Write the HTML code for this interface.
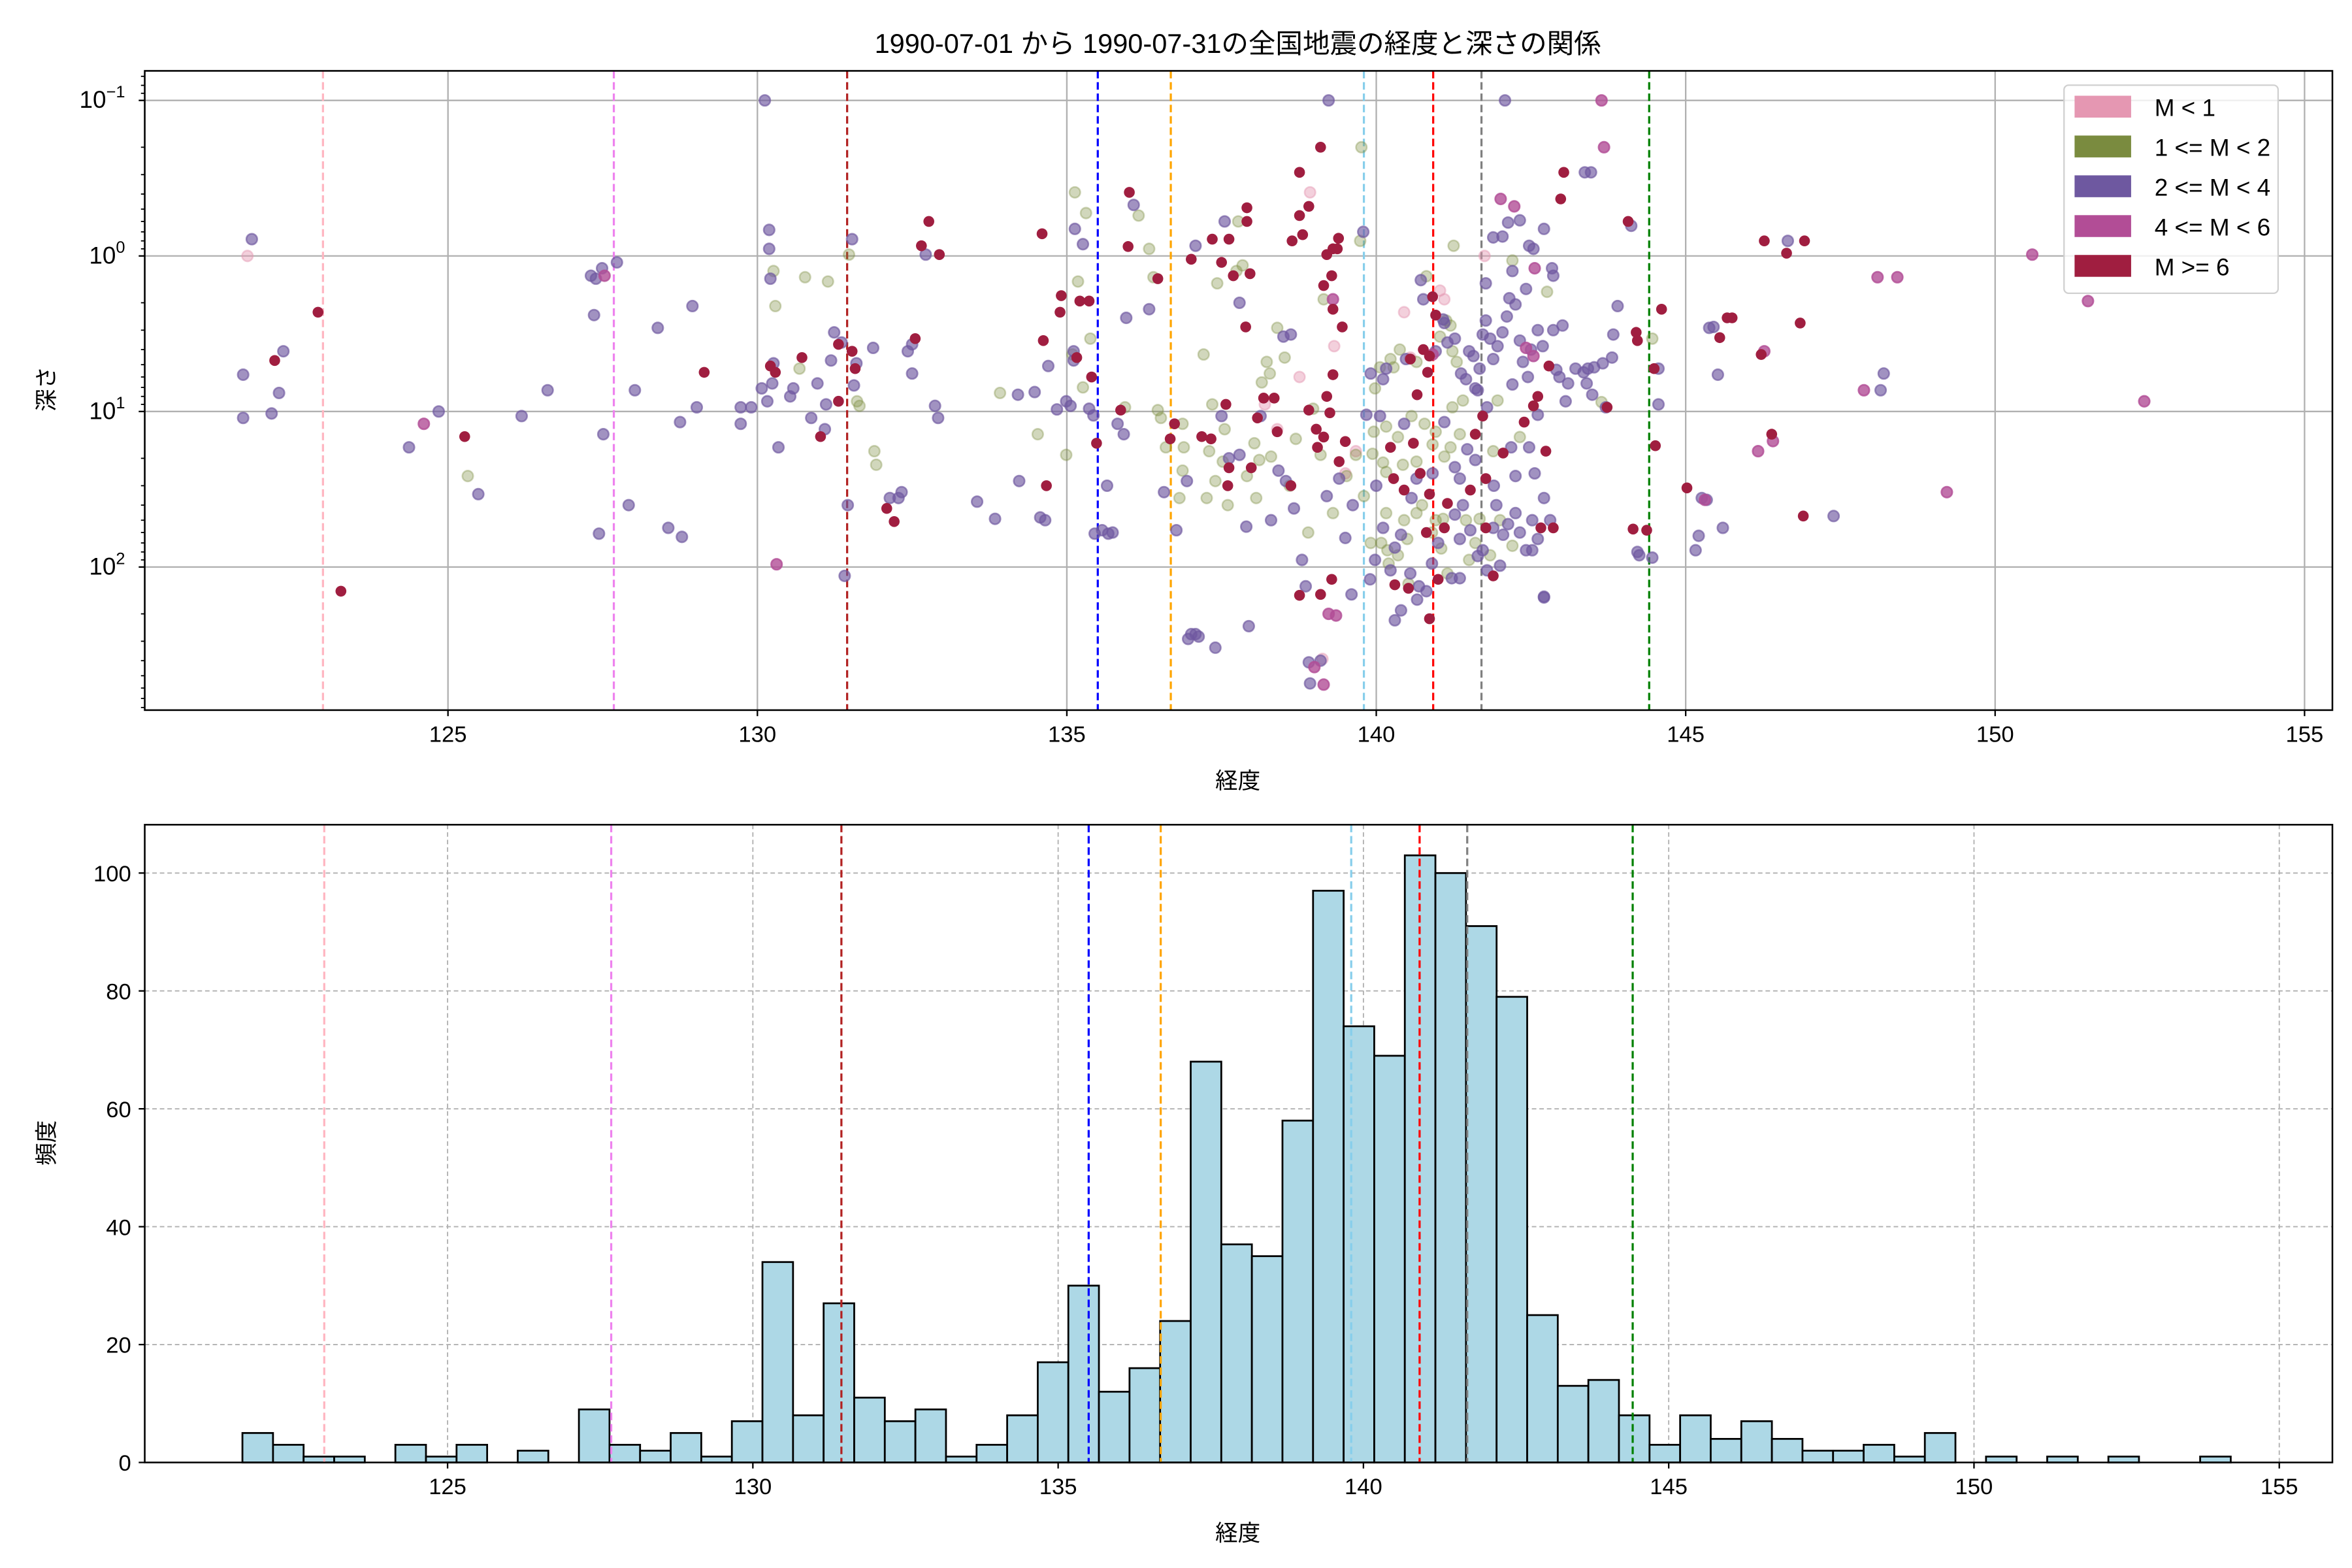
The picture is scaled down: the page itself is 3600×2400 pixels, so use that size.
<!DOCTYPE html>
<html><head><meta charset="utf-8">
<style>
html,body{margin:0;padding:0;background:#fff;}
svg{display:block;font-family:"Liberation Sans","Noto Sans CJK JP",sans-serif;}
</style></head>
<body>
<svg id="fig" width="3600" height="2400" viewBox="0 0 1560 1040" xmlns="http://www.w3.org/2000/svg">
<rect width="1560" height="1040" fill="#fff"/>
<text x="821" y="35" font-size="18" text-anchor="middle">1990-07-01 から 1990-07-31の全国地震の経度と深さの関係</text>
<g id="topPanel"></g>
<g id="botPanel"></g>
</svg>
<script>
// ---- data ----
const refLines = [122.98, 127.68, 131.45, 135.5, 136.68, 139.8, 140.92, 141.7, 144.41];
const refColors = ["#ffb6c1","#ee82ee","#b22222","#0000ff","#ffa500","#87ceeb","#ff0000","#808080","#008000"];
const xTicks = [125,130,135,140,145,150,155];
const yTicksLog = [-1,0,1,2];
const histTicks = [0,20,40,60,80,100];
const histCounts = [5,3,1,1,0,3,1,3,0,2,0,9,3,2,5,1,7,34,8,27,11,7,9,1,3,8,17,30,12,16,24,68,37,35,58,97,74,69,103,100,91,79,25,13,14,8,3,8,4,7,4,2,2,3,1,5,0,1,0,1,0,1,0,0,1];
const histStart = 121.64;
const histWidth = 0.501;
const classNames = ["M < 1","1 <= M < 2","2 <= M < 4","4 <= M < 6","M >= 6"];
const classColors = ["#e597b2","#7a8b3f","#6e58a0","#b24d96","#a01e40"];
const pinkPts = [[121.76,1.0],[138.93,0.39],[139.13,390],[139.32,3.8],[140.45,2.3],[141.03,1.67],[141.75,1],[138.4,13],[138.76,6],[139.67,18],[140.55,4.5],[141.1,1.9],[138.2,9],[139.5,25]];
const olivePts = [[125.32,26],[130.26,1.25],[130.29,2.1],[130.68,5.3],[130.77,1.37],[131.14,1.46],[131.48,0.98],[131.61,8.6],[131.65,9.2],[131.89,18],[131.92,22],[133.92,7.6],[134.53,14],[134.99,19],[135.09,4.3],[135.13,0.39],[135.18,1.46],[135.26,7],[135.31,0.53],[135.38,3.4],[135.94,9.4],[136.16,0.55],[136.33,0.9],[136.4,1.37],[136.47,9.8],[136.52,11],[136.6,17],[136.82,36],[136.87,12],[136.89,17],[136.87,24],[137.26,36],[137.4,28],[137.35,9],[137.21,4.3],[137.43,1.5],[137.74,1.25],[137.77,0.6],[137.84,1.15],[137.55,13],[137.52,21],[137.91,26],[138.03,16],[138.06,36],[138.11,20.5],[138.15,6.5],[138.23,4.8],[138.28,5.7],[138.4,2.9],[138.52,4.5],[138.3,19.5],[138.98,9.6],[139.1,19],[139.15,1.9],[139.52,26],[139.74,0.8],[139.76,0.2],[139.67,19],[139.98,7.1],[140.06,5.2],[140.23,4.6],[139.91,70],[140.08,70],[140.16,45],[140.18,78],[140.35,84],[140.45,50],[140.5,66],[140.52,128],[140.65,45],[140.74,40],[140.96,50],[141.05,76],[141.15,110],[141.08,49],[141.45,50],[141.6,70],[141.67,49],[141.84,84],[142.0,50],[142.2,73],[141.89,18],[142.32,14.6],[141.13,2.6],[141.2,2.8],[141.03,3.3],[141.23,4.1],[141.3,4.8],[141.96,8.5],[141.4,8.5],[141.23,9.4],[140.96,13.5],[140.78,12],[140.57,10.7],[140.35,14.6],[140.16,12.5],[139.96,13.5],[139.94,18.7],[140.11,21.3],[140.91,16.3],[141.1,19.5],[141.35,14],[141.2,17],[140.65,21],[140.43,22],[140.16,24.5],[140.28,5.2],[140.38,4],[140.65,4.8],[140.81,1.35],[141.25,0.86],[142.2,1.07],[142.76,1.7],[143.64,8.7],[144.46,3.4],[137.6,40],[138.6,30],[139.3,45],[138.9,60],[139.8,35],[137.3,18],[138.7,15],[140.9,60],[141.5,90],[140.2,95]];
const purplePts = [[121.69,5.8],[121.83,0.78],[121.69,11],[122.15,10.3],[122.27,7.6],[122.34,4.1],[124.37,17],[124.85,10],[125.49,34],[126.19,10.7],[126.61,7.3],[127.36,2.4],[127.39,1.4],[127.49,1.2],[127.51,14],[127.44,61],[127.73,1.1],[127.31,1.34],[127.92,40],[128.02,7.3],[128.39,2.9],[128.56,56],[128.78,64],[128.75,11.7],[128.95,2.1],[129.02,9.4],[129.73,9.4],[129.73,12],[130.12,0.1],[130.19,0.68],[130.19,0.9],[130.21,1.4],[130.26,4.9],[130.24,6.6],[130.16,8.6],[130.34,17],[129.9,9.4],[130.07,7.1],[130.58,7.1],[130.53,8],[130.87,11],[130.97,6.6],[131.09,13],[131.11,9],[131.19,4.7],[131.24,3.1],[131.36,3.6],[131.41,114],[131.46,40],[131.53,0.78],[131.56,6.8],[131.6,4.9],[131.87,3.9],[132.14,36],[132.28,36],[132.33,33],[132.43,4.1],[132.5,3.7],[132.5,5.7],[132.72,0.98],[132.92,11],[132.87,9.2],[133.55,38],[133.84,49],[134.23,28],[134.21,7.8],[134.48,7.5],[134.57,48],[134.65,50],[134.7,5.1],[134.84,9.7],[134.99,8.6],[135.06,9.2],[135.11,4.1],[135.11,4.7],[135.13,0.67],[135.36,9.6],[135.26,0.84],[135.43,10.6],[135.45,61],[135.57,58],[135.67,61],[135.65,30],[135.82,12],[135.92,14],[135.74,60],[135.96,2.5],[136.08,0.47],[136.33,2.2],[136.57,33],[136.77,58],[136.94,28],[137.01,270],[137.08,270],[136.96,290],[137.13,280],[137.4,330],[137.08,0.86],[137.55,0.6],[137.79,2],[137.5,10.7],[137.62,20],[137.79,19],[138.13,10.7],[137.94,240],[138.5,3.3],[138.62,3.2],[138.42,24],[138.54,28],[138.67,42],[138.86,133],[138.91,410],[138.93,560],[139.1,400],[139.4,27],[139.62,40],[139.79,0.7],[139.23,0.1],[139.84,10.5],[139.91,5.7],[140.11,6.2],[140.16,5.3],[139.98,90],[140.11,56],[140.23,105],[140.4,62],[140.55,110],[140.57,36],[140.65,27],[140.91,25],[141.0,70],[141.22,118],[141.35,66],[140.81,143],[140.66,162],[140.69,133],[140.4,190],[140.3,220],[141.27,46],[141.35,27],[141.52,58],[141.72,78],[141.79,105],[141.89,56],[141.94,40],[142.05,62],[142.13,53],[142.25,45],[142.32,60],[142.42,78],[142.52,50],[142.61,66],[142.71,155],[142.81,50],[142.71,36],[142.0,98],[141.35,118],[141.64,85],[142.52,78],[141.6,20.5],[142.18,17],[142.47,17],[142.61,10.5],[142.56,25],[142.25,26],[142.71,157],[140.96,4.1],[141.08,2.56],[141.15,3.6],[141.27,3.4],[141.37,5.7],[141.45,6.2],[141.5,4.1],[141.57,4.4],[141.6,7.1],[141.67,5.3],[141.72,3.2],[141.77,2.6],[141.84,3.4],[141.89,4.6],[141.96,3.8],[142.04,3.1],[142.11,2.45],[142.15,1.87],[142.2,1.25],[142.25,2.05],[142.32,3.5],[142.37,4.8],[142.45,6],[142.5,4],[142.61,3],[142.69,3.8],[142.86,3],[142.91,5.4],[142.96,6],[143.01,2.8],[143.06,8.6],[143.1,6.6],[143.22,5.3],[143.35,5.6],[143.42,5.3],[143.49,7.8],[142.2,6.7],[141.79,9.4],[141.64,7.3],[141.1,11.7],[140.45,12],[140.06,10.7],[141.27,22.8],[141.47,17.5],[140.48,4.6],[140.76,1.9],[140.72,1.43],[141.1,2.7],[141.77,1.5],[141.89,0.76],[142.04,0.75],[142.13,0.61],[142.32,0.59],[142.47,0.86],[142.08,0.1],[142.54,0.9],[142.71,0.67],[142.84,1.2],[142.86,1.34],[142.42,1.63],[143.37,0.29],[143.47,0.29],[143.4,6.6],[143.52,5.2],[143.66,4.9],[143.71,9.4],[143.81,4.5],[143.83,3.2],[143.9,2.1],[144.12,0.64],[144.56,5.3],[144.56,9],[144.22,80],[144.25,84],[144.46,87],[145.21,63],[145.16,78],[145.26,36],[145.34,37],[145.38,2.9],[145.45,2.86],[145.52,5.8],[145.6,56],[146.65,0.8],[147.39,47],[148.15,7.3],[148.2,5.7],[139.6,150],[139.9,120],[140.3,75],[140.9,95],[141.4,40],[141.9,30],[140.0,30],[139.2,35],[138.3,50],[137.9,55],[138.8,90],[139.5,65]];
const magentaPts = [[124.61,12],[127.53,1.34],[130.31,96],[139.23,200],[139.15,570],[139.35,205],[139.3,1.9],[140.91,4.3],[142.54,4.4],[142.42,3.9],[142.01,0.43],[142.23,0.48],[142.56,1.2],[143.64,0.1],[143.68,0.2],[145.31,37],[146.17,18],[146.27,4.1],[146.41,15.5],[147.88,7.3],[148.1,1.37],[148.42,1.37],[149.22,33],[150.6,0.98],[151.5,1.95],[152.41,8.6],[139.0,440]];
const redPts = [[122.2,4.7],[122.9,2.3],[123.27,143],[125.27,14.5],[129.14,5.6],[130.21,5.1],[130.29,5.6],[130.72,4.5],[131.02,14.5],[131.31,3.7],[131.31,8.6],[131.58,5.3],[131.53,4.1],[132.09,42],[132.21,51],[132.55,3.4],[132.65,0.86],[132.77,0.6],[132.94,0.98],[134.62,3.5],[134.6,0.72],[134.67,30],[134.89,2.3],[134.91,1.8],[135.16,4.5],[135.21,1.95],[135.36,1.95],[135.4,6],[135.48,16],[135.87,9.8],[136.01,0.39],[135.99,0.87],[136.47,1.4],[136.67,15],[136.74,12],[137.33,15],[137.18,14.5],[137.01,1.05],[137.35,0.78],[137.5,1.1],[137.62,0.78],[137.69,1.34],[137.91,0.49],[137.91,0.6],[137.96,1.3],[137.89,2.86],[137.57,9],[137.62,23],[137.6,30],[137.98,23],[138.08,11],[138.18,8.2],[138.35,8.2],[138.64,0.8],[138.81,0.73],[138.76,0.55],[138.91,0.48],[139.1,0.2],[138.76,0.29],[138.4,13.5],[138.62,30],[138.76,152],[139.28,120],[139.1,150],[138.91,9.8],[139.03,13],[139.05,17],[139.15,14.6],[139.25,10.2],[139.2,8],[139.3,5.8],[139.3,2.2],[139.15,1.55],[139.28,1.34],[139.2,0.98],[139.3,0.9],[139.37,0.9],[139.45,2.86],[139.5,15.6],[139.4,21],[139.39,0.77],[140.3,130],[140.52,137],[140.28,27],[140.45,32],[140.71,25],[140.81,60],[140.86,34],[141.1,56],[140.86,215],[141.0,120],[141.15,39],[141.77,56],[142.66,56],[142.86,56],[141.89,114],[141.52,32],[141.77,27],[142.05,18.5],[142.74,18],[140.66,7.8],[140.76,4],[140.86,4.4],[140.83,5.6],[140.91,1.83],[140.96,2.4],[142.79,5.1],[142.54,9.2],[142.61,8],[142.39,11.7],[140.23,17],[140.6,16],[141.6,14],[141.72,10.7],[140.55,4.6],[142.98,0.43],[143.03,0.29],[143.73,9.4],[144.07,0.6],[144.2,3.1],[144.22,3.5],[144.49,5.3],[144.61,2.2],[144.51,16.6],[144.37,58],[144.15,57],[145.02,31],[145.55,3.35],[145.67,2.5],[145.75,2.5],[146.22,4.3],[146.39,14],[146.27,0.8],[146.63,0.96],[146.92,0.8],[146.85,2.7],[146.9,47]];

// ---- layout ----
const NS = "http://www.w3.org/2000/svg";
function mk(tag, attrs, parent){const e=document.createElementNS(NS,tag);for(const k in attrs)e.setAttribute(k,attrs[k]);if(parent)parent.appendChild(e);return e;}
const T = {l:96,r:1547,t:47,b:471, x0:120.1, x1:155.45, ly0:-1.19, ly1:2.92};
const B = {l:96,r:1547,t:547,b:970, x0:120.04, x1:155.87, y0:0, y1:108.2};
const tx = v => T.l + (v - T.x0)/(T.x1-T.x0)*(T.r-T.l);
const ty = d => T.t + (Math.log10(d) - T.ly0)/(T.ly1-T.ly0)*(T.b-T.t);
const bx = v => B.l + (v - B.x0)/(B.x1-B.x0)*(B.r-B.l);
const by = v => B.b - (v - B.y0)/(B.y1-B.y0)*(B.b-B.t);

const topG = document.getElementById('topPanel');
const botG = document.getElementById('botPanel');

// ---- top panel ----
const tGrid = mk('g',{},topG);


xTicks.forEach(v=>{
  const x=tx(v);
  mk('line',{x1:x,x2:x,y1:T.t,y2:T.b,stroke:'#b0b0b0','stroke-width':1},tGrid);
  mk('line',{x1:x,x2:x,y1:T.b,y2:T.b+4,stroke:'#000','stroke-width':1},topG);
  const t=mk('text',{x:x,y:T.b+21,'font-size':15,'text-anchor':'middle'},topG);
  t.textContent=v;
  
  
});
yTicksLog.forEach(p=>{
  const y=ty(Math.pow(10,p));
  mk('line',{x1:T.l,x2:T.r,y1:y,y2:y,stroke:'#b0b0b0','stroke-width':1},tGrid);
  mk('line',{x1:T.l-4,x2:T.l,y1:y,y2:y,stroke:'#000','stroke-width':1},topG);
  const t=mk('text',{x:T.l-13,y:y+5,'font-size':16,'text-anchor':'end'},topG);
  
  
  const a=mk('tspan',{},t); a.textContent='10';
  const s=mk('tspan',{dy:-7,'font-size':11},t); s.textContent=String(p).replace('-','\u2212');
});
for(let p=-2;p<=2;p++){for(let m=2;m<=9;m++){const d=m*Math.pow(10,p);const lg=Math.log10(d);if(lg<T.ly0||lg>T.ly1)continue;const y=ty(d);mk('line',{x1:T.l-2.5,x2:T.l,y1:y,y2:y,stroke:'#000','stroke-width':0.8},topG);}}

refLines.forEach((v,i)=>{
  const l=mk('line',{x1:tx(v),x2:tx(v),y1:T.t,y2:T.b,stroke:refColors[i],'stroke-width':1.4,'stroke-dasharray':'5,2.5'},topG);
  
  
});

const sets=[pinkPts,olivePts,purplePts,magentaPts,redPts];
const alphas=[0.45,0.35,0.65,0.8,1];
sets.forEach((pts,ci)=>{
  const g=mk('g',{},topG);
  
  
  pts.forEach(p=>{
    const c=mk('circle',{cx:tx(p[0]),cy:ty(p[1]),r:3.6,fill:classColors[ci],'fill-opacity':alphas[ci],stroke:classColors[ci],'stroke-opacity':alphas[ci],'stroke-width':ci==4?0:1.1},g);
    
    
  });
});
const tf=mk('rect',{x:T.l,y:T.t,width:T.r-T.l,height:T.b-T.t,fill:'none',stroke:'#000','stroke-width':1.1},topG);



// legend
const lgd=mk('g',{},topG);


mk('rect',{x:1369,y:56.5,width:142,height:138,rx:3,fill:'#fff','fill-opacity':0.8,stroke:'#d0d0d0','stroke-width':1},lgd);
classNames.forEach((n,i)=>{
  const y=71+i*26.4;
  const e=mk('g',{},lgd);
  
  
  mk('rect',{x:1376,y:y-7.5,width:37.5,height:14.5,fill:classColors[i]},e);
  const t=mk('text',{x:1429,y:y+6,'font-size':16},e); t.textContent=n;
});

const xl=mk('text',{x:821,y:523,'font-size':15,'text-anchor':'middle'},topG); xl.textContent='経度';


const yl=mk('text',{x:0,y:0,'font-size':15,'text-anchor':'middle',transform:'translate(36,258) rotate(-90)'},topG); yl.textContent='深さ';



// ---- bottom panel ----
xTicks.forEach(v=>{
  const x=bx(v);
  mk('line',{x1:x,x2:x,y1:B.t,y2:B.b,stroke:'#b0b0b0','stroke-width':0.8,'stroke-dasharray':'3,2'},botG);
  mk('line',{x1:x,x2:x,y1:B.b,y2:B.b+4,stroke:'#000','stroke-width':1},botG);
  const t=mk('text',{x:x,y:B.b+21,'font-size':15,'text-anchor':'middle'},botG); t.textContent=v;
  
  
});
histTicks.forEach(v=>{
  const y=by(v);
  mk('line',{x1:B.l,x2:B.r,y1:y,y2:y,stroke:'#b0b0b0','stroke-width':0.8,'stroke-dasharray':'3,2'},botG);
  mk('line',{x1:B.l-4,x2:B.l,y1:y,y2:y,stroke:'#000','stroke-width':1},botG);
  const t=mk('text',{x:B.l-9,y:y+5.5,'font-size':15,'text-anchor':'end'},botG); t.textContent=v;
  
  
});
histCounts.forEach((c,i)=>{
  if(c<=0)return;
  const x0=bx(histStart+i*histWidth), x1=bx(histStart+(i+1)*histWidth);
  const r=mk('rect',{x:x0,y:by(c),width:x1-x0,height:by(0)-by(c),fill:'#add8e6',stroke:'#000','stroke-width':1.2},botG);
  
  
});
refLines.forEach((v,i)=>{
  const l=mk('line',{x1:bx(v),x2:bx(v),y1:B.t,y2:B.b,stroke:refColors[i],'stroke-width':1.4,'stroke-dasharray':'5,2.5'},botG);
  
  
});
const bf=mk('rect',{x:B.l,y:B.t,width:B.r-B.l,height:B.b-B.t,fill:'none',stroke:'#000','stroke-width':1.1},botG);


const xl2=mk('text',{x:821,y:1022,'font-size':15,'text-anchor':'middle'},botG); xl2.textContent='経度';


const yl2=mk('text',{x:0,y:0,'font-size':15,'text-anchor':'middle',transform:'translate(36,758) rotate(-90)'},botG); yl2.textContent='頻度';


</script>
</body></html>
